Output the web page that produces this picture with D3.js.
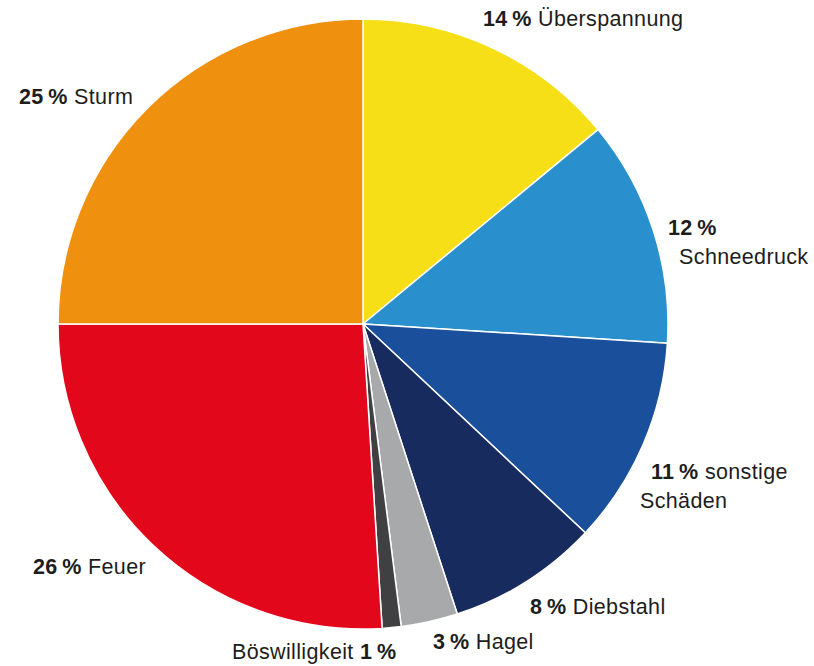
<!DOCTYPE html>
<html><head><meta charset="utf-8">
<script src="https://cdn.jsdelivr.net/npm/d3@7"></script>
<style>
html,body{margin:0;padding:0;background:#fff;}
text{font-family:"Liberation Sans",Arial,Helvetica,sans-serif;fill:#1d1d1b;}
</style></head>
<body><svg id="c" width="814" height="666"></svg>
<script>
const categories = ["Überspannung","Schneedruck","sonstige Schäden","Diebstahl","Hagel","Böswilligkeit","Feuer","Sturm"];
const values = [14,12,11,8,3,1,26,25];
const colors = ["#f7df17","#2a8fcd","#1a4f9b","#172b5f","#a8a9ab","#404043","#e2071b","#f0900f"];

const W = 814, H = 666;
const cx = 363, cy = 324, R = 305;
const fs = 21.5;

const svg = d3.select("#c");
const g = svg.append("g").attr("transform",`translate(${cx},${cy})`);
const pie = d3.pie().sort(null).value(d=>d)(values);
const arc = d3.arc().innerRadius(0).outerRadius(R);
g.selectAll("path").data(pie).join("path")
  .attr("d",arc).attr("fill",(d,i)=>colors[i])
  .attr("stroke","#fff").attr("stroke-width",1.5).attr("stroke-linejoin","round");

const pct = v => v + "\u2009%";
const labelLayout = [
  {x:483,y:26,lines:[[[1,pct(values[0])],[0," "+categories[0]]]]},
  {x:668,y:235,lines:[[[1,pct(values[1])]],[[0,"\u2002"+categories[1]]]]},
  {x:651,y:479,lines:[[[1,pct(values[2])],[0," sonstige"]],[[0,"Schäden"]]], dx2:-11},
  {x:530,y:614,lines:[[[1,pct(values[3])],[0," "+categories[3]]]]},
  {x:433,y:649,lines:[[[1,pct(values[4])],[0," "+categories[4]]]]},
  {x:232,y:659,lines:[[[0,categories[5]+" "],[1,pct(values[5])]]]},
  {x:33,y:574,lines:[[[1,pct(values[6])],[0," "+categories[6]]]]},
  {x:19,y:104,lines:[[[1,pct(values[7])],[0," "+categories[7]]]]}
];
labelLayout.forEach(L=>{
  L.lines.forEach((line,li)=>{
    const t = svg.append("text")
      .attr("x", L.x + (li>0 && L.dx2 ? L.dx2 : 0))
      .attr("y", L.y + li*28.5)
      .attr("font-size", fs)
      .attr("letter-spacing", 0.35);
    line.forEach(([b,s])=>{
      t.append("tspan").attr("font-weight", b? "bold":"normal").text(s);
    });
  });
});
</script></body></html>
